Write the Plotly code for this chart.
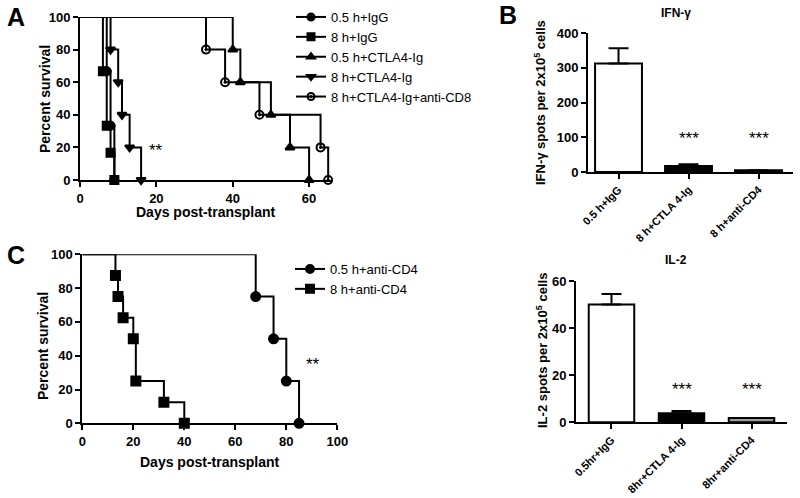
import plotly.graph_objects as go

# ---------------- data ----------------
# Panel A survival (event days, % survival after each event)
a_names = ["0.5 h+IgG", "8 h+IgG", "0.5 h+CTLA4-Ig", "8 h+CTLA4-Ig", "8 h+CTLA4-Ig+anti-CD8"]
a_days = [[7, 8, 9], [6, 7, 8, 9], [40, 42, 50, 55, 60], [8, 10, 11, 13, 16], [33, 38, 47, 63, 65]]
a_surv = [[66.7, 33.3, 0], [66.7, 33.3, 16.7, 0], [80, 60, 40, 20, 0], [80, 60, 40, 20, 0], [80, 60, 40, 20, 0]]
a_symbols = ["circle", "square", "triangle-up", "triangle-down", "circle-open-dot"]

# Panel C survival
c_names = ["0.5 h+anti-CD4", "8 h+anti-CD4"]
c_days = [[68, 75, 80, 85], [13, 14, 16, 20, 21, 32, 40]]
c_surv = [[75, 50, 25, 0], [87.5, 75, 62.5, 50, 25, 12.5, 0]]
c_symbols = ["circle", "square"]

# Panel B bars
ifn_labels = ["0.5 h+IgG", "8 h+CTLA 4-Ig", "8 h+anti-CD4"]
ifn_values = [312, 17, 5]
ifn_err = [44, 5, 0]
il2_labels = ["0.5hr+IgG", "8hr+CTLA 4-Ig", "8hr+anti-CD4"]
il2_values = [50, 3.8, 1.8]
il2_err = [4.5, 1.0, 0]
bar_fills = ["white", "black", "#222222"]
il2_fills = ["white", "black", "#9a9a9a"]

W, H = 800, 498
FONT = "Liberation Sans, Arial, sans-serif"


def fx(px):
    return px / W


def fy(py):
    return 1 - py / H


fig = go.Figure()


def add_survival(names, days, surv, symbols, xa, ya, legend, msize):
    for n, d, s, sym in zip(names, days, surv, symbols):
        fig.add_trace(go.Scatter(x=[0] + d, y=[100] + s, mode="lines", line=dict(color="black", width=2, shape="hv"),
                                 xaxis=xa, yaxis=ya, showlegend=False, cliponaxis=False, hoverinfo="skip"))
    for n, d, s, sym in zip(names, days, surv, symbols):
        fig.add_trace(go.Scatter(x=d, y=s, mode="markers",
                                 marker=dict(symbol=sym, size=msize, color="black",
                                             line=dict(color="black", width=2)),
                                 xaxis=xa, yaxis=ya, showlegend=False, cliponaxis=False))
    for n, sym in zip(names, symbols):
        fig.add_trace(go.Scatter(x=[None], y=[None], mode="lines+markers", name=n,
                                 line=dict(color="black", width=2),
                                 marker=dict(symbol=sym, size=msize - 1, color="black",
                                             line=dict(color="black", width=2)),
                                 xaxis=xa, yaxis=ya, legend=legend))


add_survival(a_names, a_days, a_surv, a_symbols, "x", "y", "legend", 8)
add_survival(c_names, c_days, c_surv, c_symbols, "x2", "y2", "legend2", 9)

ifn_x = list(range(len(ifn_labels)))
fig.add_trace(go.Bar(x=ifn_x, y=ifn_values, width=0.67, xaxis="x3", yaxis="y3",
                     marker=dict(color=bar_fills, line=dict(color="black", width=2)),
                     error_y=dict(type="data", symmetric=False, array=ifn_err, arrayminus=[0, 0, 0],
                                  color="black", thickness=2, width=10),
                     showlegend=False))
il2_x = list(range(len(il2_labels)))
fig.add_trace(go.Bar(x=il2_x, y=il2_values, width=0.65, xaxis="x4", yaxis="y4",
                     marker=dict(color=il2_fills, line=dict(color="black", width=2)),
                     error_y=dict(type="data", symmetric=False, array=il2_err, arrayminus=[0, 0, 0],
                                  color="black", thickness=2, width=10),
                     showlegend=False))

tickfont = dict(family=FONT, size=13, color="black", weight="bold")
axbase = dict(showgrid=False, zeroline=False, showline=True, linecolor="black", linewidth=2,
              ticks="outside", ticklen=5, tickwidth=2, tickcolor="black", tickfont=tickfont,
              fixedrange=True, automargin=False)

fig.update_layout(
    width=W, height=H, margin=dict(l=0, r=0, t=0, b=0),
    paper_bgcolor="white", plot_bgcolor="white",
    font=dict(family=FONT, color="black"),
    xaxis=dict(axbase, domain=[fx(80), fx(332)], range=[0, 66], tickvals=[0, 20, 40, 60], anchor="y"),
    yaxis=dict(axbase, domain=[fy(180), fy(17)], range=[0, 100], tickvals=[0, 20, 40, 60, 80, 100], anchor="x"),
    xaxis2=dict(axbase, domain=[fx(82.3), fx(337.3)], range=[0, 100], tickvals=[0, 20, 40, 60, 80, 100], anchor="y2"),
    yaxis2=dict(axbase, domain=[fy(423.3), fy(254.3)], range=[0, 100], tickvals=[0, 20, 40, 60, 80, 100], anchor="x2"),
    xaxis3=dict(axbase, domain=[fx(588), fx(793)], range=[-0.436, 2.493], tickvals=ifn_x, ticktext=ifn_labels,
                tickangle=-45, tickfont=dict(family=FONT, size=11, color="black", weight="bold"), anchor="y3"),
    yaxis3=dict(axbase, domain=[fy(172), fy(33)], range=[0, 400], tickvals=[0, 100, 200, 300, 400], anchor="x3"),
    xaxis4=dict(axbase, domain=[fx(576), fx(787)], range=[-0.507, 2.507], tickvals=il2_x, ticktext=il2_labels,
                tickangle=-45, tickfont=dict(family=FONT, size=11, color="black", weight="bold"), anchor="y4"),
    yaxis4=dict(axbase, domain=[fy(422.3), fy(281)], range=[0, 60], tickvals=[0, 20, 40, 60], anchor="x4"),
    legend=dict(x=fx(291), y=fy(2), xanchor="left", yanchor="top", bgcolor="rgba(0,0,0,0)",
                font=dict(family=FONT, size=13, color="black"), tracegroupgap=0),
    legend2=dict(x=fx(290), y=fy(254), xanchor="left", yanchor="top", bgcolor="rgba(0,0,0,0)",
                 font=dict(family=FONT, size=13, color="black"), tracegroupgap=0),
)

ann = []


def text(x, y, s, size, bold=True, xref="paper", yref="paper", angle=0):
    ann.append(dict(x=x, y=y, xref=xref, yref=yref, text=s, showarrow=False, textangle=angle,
                    font=dict(family=FONT, size=size, color="black", weight="bold" if bold else "normal"),
                    xanchor="center", yanchor="middle"))


# panel letters
text(fx(16), fy(17), "A", 25)
text(fx(508), fy(15), "B", 25)
text(fx(16), fy(255), "C", 25)
# axis titles
text(fx(45), fy(99), "Percent survival", 14, angle=-90)
text(fx(206), fy(212), "Days post-transplant", 14)
text(fx(43), fy(346), "Percent survival", 14, angle=-90)
text(fx(210), fy(462), "Days post-transplant", 14)
text(fx(540), fy(103), "IFN-γ spots per 2x10<sup>5</sup> cells", 13, angle=-90)
text(fx(542), fy(351), "IL-2 spots per 2x10<sup>5</sup> cells", 13, angle=-90)
# bar titles
text(fx(676), fy(13), "IFN-γ", 12)
text(fx(676), fy(260), "IL-2", 12)
# significance
ann.append(dict(x=20, y=18, xref="x", yref="y", text="**", showarrow=False,
                font=dict(family=FONT, size=17, color="black")))
ann.append(dict(x=90.6, y=35, xref="x2", yref="y2", text="**", showarrow=False,
                font=dict(family=FONT, size=17, color="black")))
for xi in [1, 2]:
    ann.append(dict(x=xi, y=95, xref="x3", yref="y3", text="***", showarrow=False,
                    font=dict(family=FONT, size=17, color="black")))
    ann.append(dict(x=xi, y=14, xref="x4", yref="y4", text="***", showarrow=False,
                    font=dict(family=FONT, size=17, color="black")))

fig.update_layout(annotations=ann)
fig.write_html("out.html", config={"displayModeBar": False},
               post_script="document.body.style.margin='0';document.body.style.overflow='hidden';")
